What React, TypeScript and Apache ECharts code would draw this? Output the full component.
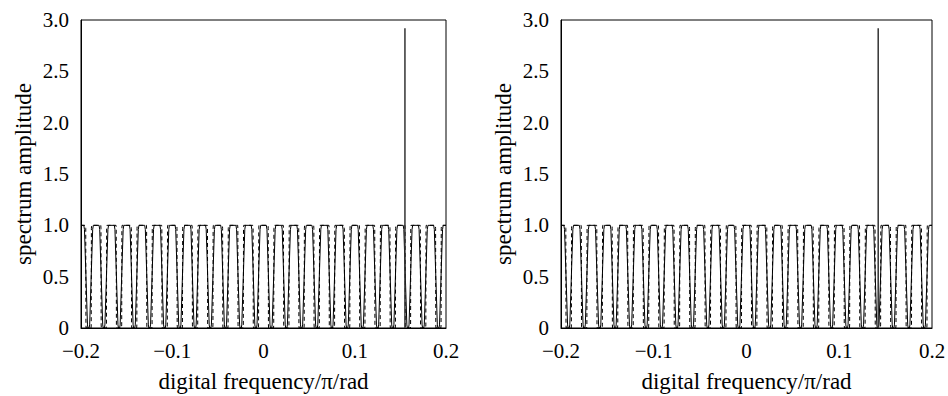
import React, { useEffect, useRef } from "react";
import * as echarts from "echarts";

const xTicks = [-0.2, -0.1, 0, 0.1, 0.2];
const yTicks = [0, 0.5, 1.0, 1.5, 2.0, 2.5, 3.0];
const xTickLabels = ["\u22120.2", "\u22120.1", "0", "0.1", "0.2"];
const yTickLabels = ["0", "0.5", "1.0", "1.5", "2.0", "2.5", "3.0"];

// centres of the zero dips of the comb response
const notchCentres = [
  -0.1917, -0.175, -0.1583, -0.1417, -0.125, -0.1083, -0.0917, -0.075,
  -0.0583, -0.0417, -0.025, -0.0083, 0.0083, 0.025, 0.0417, 0.0583,
  0.075, 0.0917, 0.1083, 0.125, 0.1417, 0.1583, 0.175, 0.1917,
];
// notch shape of each curve: [offset from centre, amplitude]
const solidNotchShape = [
  [-0.0052, 1], [-0.0045, 0.96], [-0.0012, 0.03], [-0.0006, 0], [0.0006, 0], [0.0012, 0.03], [0.0045, 0.96], [0.0052, 1],
];
const dashedNotchShape = [
  [-0.0033, 1], [-0.0031, 0.97], [-0.0029, 0.03], [-0.0027, 0], [0.0027, 0], [0.0029, 0.03], [0.0031, 0.97], [0.0033, 1],
];

const leftSpike = { x: 0.155, y: 2.92 };
const rightSpike = { x: 0.142, y: 2.92 };

const FONT = "Liberation Serif";

function buildCurve(shape: number[][]) {
  const pts: number[][] = [[-0.2, 1]];
  for (const c of notchCentres) {
    for (const [dx, y] of shape) pts.push([c + dx, y]);
  }
  pts.push([0.2, 1]);
  return pts;
}

export default function App() {
  const ref = useRef<HTMLDivElement>(null);
  useEffect(() => {
    const chart = echarts.init(ref.current!, null, { renderer: "svg" });
    const solid = buildCurve(solidNotchShape);
    const dashed = buildCurve(dashedNotchShape);
    const grids = [
      { left: 81, top: 20, width: 365, height: 308 },
      { left: 561, top: 20, width: 371, height: 308 },
    ];
    const xAxis = grids.map((_, i) => ({
      type: "value",
      gridIndex: i,
      min: -0.2,
      max: 0.2,
      interval: 0.1,
      name: "digital frequency/\u03c0/rad",
      nameLocation: "middle",
      nameGap: 42,
      nameTextStyle: { fontFamily: FONT, fontSize: 23, color: "#000" },
      axisLine: { show: true, onZero: false, lineStyle: { color: "#000", width: 1 } },
      axisTick: { show: false },
      splitLine: { show: false },
      axisLabel: {
        fontFamily: FONT,
        fontSize: 21,
        lineHeight: 18,
        color: "#000",
        margin: 14,
        formatter: (v: number) => {
          const idx = xTicks.findIndex((t) => Math.abs(t - v) < 1e-9);
          return idx >= 0 ? xTickLabels[idx] : "";
        },
      },
    }));
    const yAxis = grids.map((_, i) => ({
      type: "value",
      gridIndex: i,
      min: 0,
      max: 3,
      interval: 0.5,
      name: "spectrum amplitude",
      nameLocation: "middle",
      nameGap: 46,
      nameTextStyle: { fontFamily: FONT, fontSize: 23, color: "#000" },
      axisLine: { show: true, onZero: false, lineStyle: { color: "#000", width: 1 } },
      axisTick: { show: false },
      splitLine: { show: false },
      axisLabel: {
        fontFamily: FONT,
        fontSize: 21,
        lineHeight: 18,
        color: "#000",
        margin: 12,
        formatter: (v: number) => {
          const idx = yTicks.findIndex((t) => Math.abs(t - v) < 1e-9);
          return idx >= 0 ? yTickLabels[idx] : "";
        },
      },
    }));
    const series: any[] = [];
    [0, 1].forEach((i) => {
      series.push({
        type: "line",
        xAxisIndex: i,
        yAxisIndex: i,
        data: dashed,
        symbol: "none",
        lineStyle: { color: "#000", width: 1, type: [4, 3] },
      });
      series.push({
        type: "line",
        xAxisIndex: i,
        yAxisIndex: i,
        data: solid,
        symbol: "none",
        lineStyle: { color: "#000", width: 1 },
      });
      const sp = i === 0 ? leftSpike : rightSpike;
      series.push({
        type: "line",
        xAxisIndex: i,
        yAxisIndex: i,
        data: [[sp.x, 0], [sp.x, sp.y]],
        symbol: "none",
        lineStyle: { color: "#333", width: 1.5 },
      });
    });
    chart.setOption({
      animation: false,
      backgroundColor: "#fff",
      grid: grids.map((g) => ({
        ...g,
        show: true,
        borderColor: "#000",
        borderWidth: 1,
        backgroundColor: "transparent",
        containLabel: false,
        outerBoundsMode: "none",
      })),
      xAxis,
      yAxis,
      series,
    });
    return () => chart.dispose();
  }, []);
  return (
    <div
      ref={ref}
      style={{ position: "fixed", left: 0, top: 0, width: 948, height: 396, background: "#fff" }}
    />
  );
}
